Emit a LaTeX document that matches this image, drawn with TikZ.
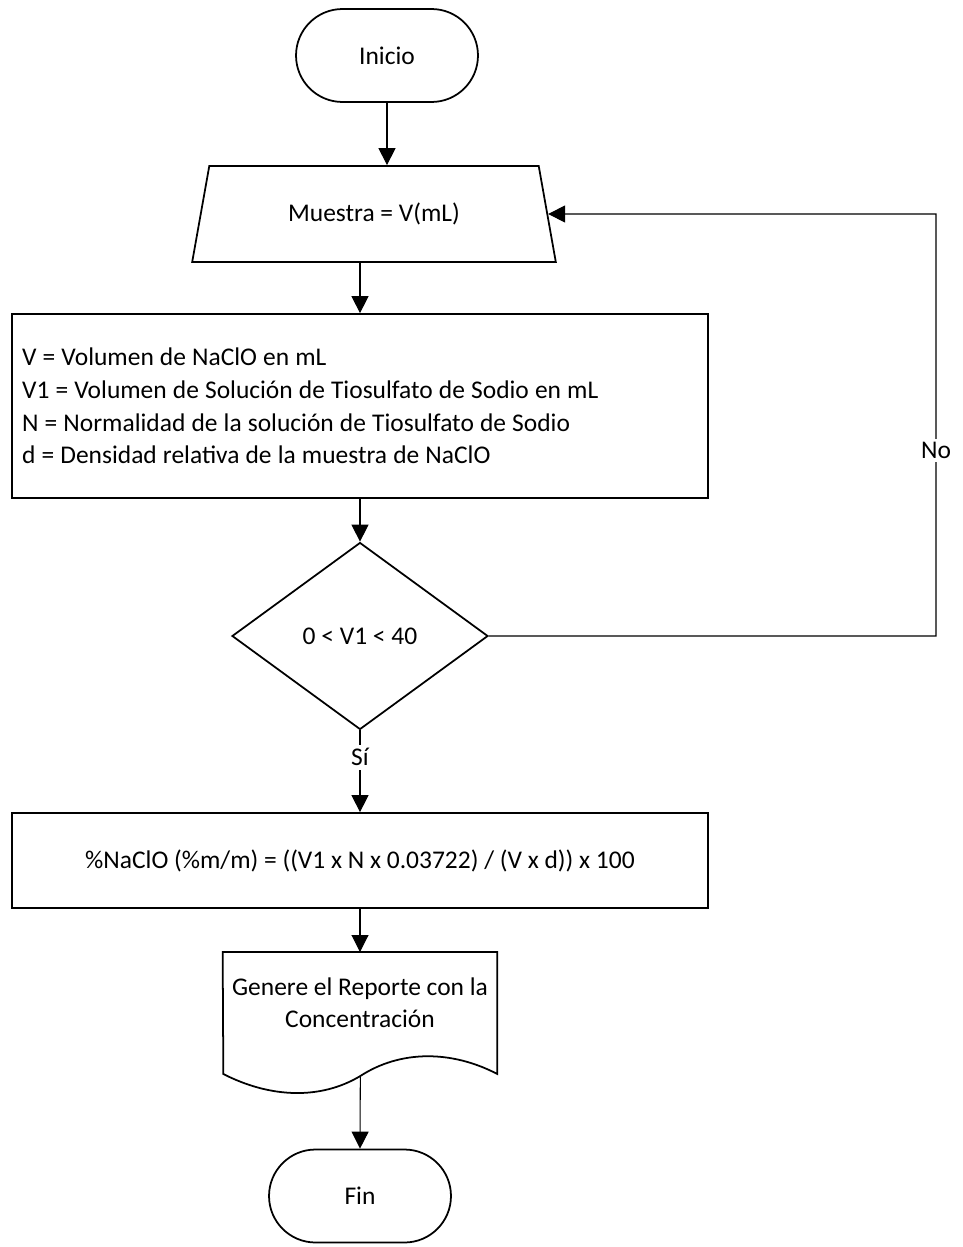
\documentclass[tikz,border=0pt]{standalone}
\usepackage{fontspec}
\setmainfont{Carlito}
\usetikzlibrary{shapes.geometric,arrows.meta}

\begin{document}
\begin{tikzpicture}[x=0.02cm,y=-0.02cm,>={Triangle[length=0.34cm,width=0.34cm]},
                    font=\fontsize{14.5}{18.6}\selectfont,
                    term node/.style={draw,line width=1pt,rectangle,rounded corners=0.93cm,
                                      minimum width=3.64cm,minimum height=1.86cm},
                    input node/.style={draw,line width=1pt,trapezium,trapezium stretches=true,
                                       trapezium left angle=74.3,trapezium right angle=74.3,
                                       minimum width=7.28cm,minimum height=1.92cm},
                    box node/.style={draw,line width=1pt,rectangle,minimum width=13.92cm},
                    test node/.style={draw,line width=1pt,diamond,aspect=1.37,inner sep=0pt,
                                      minimum width=5.12cm,minimum height=3.74cm},
                    flow/.style={->,line width=0.6pt},
                    label node/.style={fill=white,inner sep=2pt}]

        \useasboundingbox (0,0) rectangle (963,1247);

        % Define nodes
        \node[term node] (ini) at (387,55.5) {Inicio};
        \node[input node] (in) at (374,214) {Muestra = V(mL)};
        \node[box node,minimum height=3.68cm,text width=13.52cm,inner xsep=0.2cm,align=left] (datos) at (360,406)
            {\spaceskip=0.24em\relax
             V = Volumen de NaClO en mL\\
             V1 = Volumen de Solución de Tiosulfato de Sodio en mL\\
             N = Normalidad de la solución de Tiosulfato de Sodio\\
             d = Densidad relativa de la muestra de NaClO};
        \node[test node] (dec) at (360,636) {0 < V1 < 40};
        \node[box node,minimum height=1.9cm] (calc) at (360,860.5)
            {\%NaClO (\%m/m) = ((V1 x N x 0.03722) / (V x d)) x 100};
        \node[anchor=north,minimum width=5.48cm,inner ysep=0.5cm,align=center] (doc) at (360,952)
            {Genere el Reporte con la\\Concentración};
        \node[term node] (fin) at (360,1196) {Fin};
        \coordinate (loop) at (936,214);

        % Document outline
        \draw[line width=1pt] (doc.north west) -- (doc.north east) -- ++(0,122)
            .. controls +(-46,-24) and +(40,-26) .. ++(-137,2) coordinate (docend)
            .. controls +(-40,24) and +(47,24) .. ++(-137,-2) -- cycle;

        % Draw edges
        \path[flow]
            (ini.south) edge (ini.south |- in.north)
            (in.south -| datos.north) edge (datos.north)
            (datos.south) edge (dec.north)
            (dec.south) edge node[label node,pos=0.33] {Sí} (calc.north)
            (calc.south) edge (doc.north)
            (docend) edge (fin.north);
        \draw[flow] (dec.east) -| (loop) node[label node,pos=0.72] {No} -- (in.east);

\end{tikzpicture}
\end{document}
